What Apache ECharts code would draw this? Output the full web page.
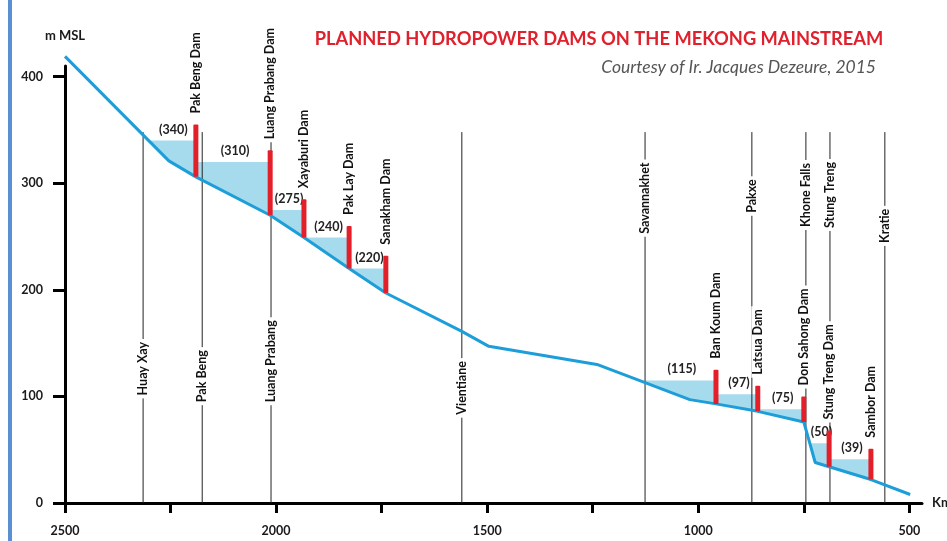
<!DOCTYPE html>
<html>
<head>
<meta charset="utf-8">
<script src="https://cdn.jsdelivr.net/npm/echarts@6/dist/echarts.min.js"></script>
<style>
  html, body { margin: 0; padding: 0; background: #fff; }
  #chart { width: 947px; height: 541px; }
</style>
</head>
<body>
<div id="chart"></div>
<script>
// river profile (distance from sea in km, elevation in m MSL)
const riverKm   = [2500, 2254, 2190, 2014, 1934, 1827, 1740, 1560, 1496, 1240, 1126, 1020, 958, 859, 750, 740, 723, 690, 591, 498];
const riverElev = [419, 321, 306, 270, 249, 220, 197, 161, 147, 130, 113, 97, 93, 86, 76, 62, 38, 34, 22, 8];

// dams
const damNames = ['Pak Beng Dam', 'Luang Prabang Dam', 'Xayaburi Dam', 'Pak Lay Dam', 'Sanakham Dam',
                  'Ban Koum Dam', 'Latsua Dam', 'Don Sahong Dam', 'Stung Treng Dam', 'Sambor Dam'];
const damKm  = [2190, 2014, 1934, 1827, 1740, 958, 859, 750, 690, 591];
const damTop = [355, 331, 285, 260, 232, 125, 110, 100, 68, 51];

// reservoirs
const poolLabels = ['(340)', '(310)', '(275)', '(240)', '(220)', '(115)', '(97)', '(75)', '(50)', '(39)'];
const poolStart  = [2306, 2190, 2014, 1934, 1827, 1129, 958, 859, 736, 690];
const poolEnd    = [2190, 2014, 1934, 1827, 1740, 958, 859, 750, 690, 591];
const poolLevel  = [340, 320, 275, 249, 220, 115, 102, 88, 56, 41];

// towns / places
const placeNames = ['Huay Xay', 'Pak Beng', 'Luang Prabang', 'Vientiane', 'Savannakhet', 'Pakxe', 'Khone Falls', 'Stung Treng', 'Kratie'];
const placeKm    = [2315, 2175, 2012, 1560, 1126, 873, 745, 688, 558];

// axes
const yTicks   = [0, 100, 200, 300, 400];
const xTicks   = [500, 750, 1000, 1250, 1500, 1750, 2000, 2250, 2500];
const xLabels  = [500, 1000, 1500, 2000, 2500];

// layout only: where the place names sit along their line (m)
const placeLabelAt = [126, 119, 133, 108, 286, 288, 289, 289, 260];
const placeLineTop = 348;

const FONT = 'Lato, "Open Sans", sans-serif';
const lbl = 'bold 12.5px ' + FONT;

function riverAt(km) {
    for (let i = 0; i < riverKm.length - 1; i++) {
        const a = riverKm[i], b = riverKm[i + 1];
        if (km <= a && km >= b) {
            const t = (a - km) / (a - b);
            return riverElev[i] + t * (riverElev[i + 1] - riverElev[i]);
        }
    }
    return riverElev[riverElev.length - 1];
}

function vText(x, y, text, align, bg) {
    return {
        type: 'text', x: x, y: y, rotation: Math.PI / 2,
        style: {
            text: text, font: lbl, fill: '#111',
            align: align, textAlign: align,
            verticalAlign: 'middle', textVerticalAlign: 'middle',
            backgroundColor: bg ? '#fff' : null, padding: bg ? [0, 3] : 0,
        },
    };
}

const option = {
    animation: false,
    backgroundColor: '#fff',
    grid: { left: 65, right: 25, top: 66, bottom: 38, outerBoundsMode: 'none' },
    xAxis: {
        type: 'value', inverse: true, min: 470, max: 2500,
        name: 'Km', nameLocation: 'start', nameGap: 10,
        nameTextStyle: { fontFamily: FONT, fontWeight: 'bold', fontSize: 13, color: '#1a1a1a' },
        axisLine: { lineStyle: { color: '#000', width: 3 } },
        axisTick: { show: true, length: 10, customValues: xTicks, lineStyle: { color: '#000', width: 3 } },
        axisLabel: { customValues: xLabels, formatter: v => String(v), margin: 21,
                     fontFamily: FONT, fontWeight: 'bold', fontSize: 12.5, color: '#1a1a1a' },
        splitLine: { show: false },
    },
    yAxis: {
        type: 'value', min: 0, max: 410,
        name: 'm MSL', nameLocation: 'end', nameGap: 24,
        nameTextStyle: { fontFamily: FONT, fontWeight: 'bold', fontSize: 13, color: '#1a1a1a', align: 'center' },
        axisLine: { show: true, lineStyle: { color: '#000', width: 3 } },
        axisTick: { show: true, length: 12, customValues: yTicks, lineStyle: { color: '#000', width: 3 } },
        axisLabel: { customValues: yTicks, margin: 22, fontFamily: FONT, fontWeight: 'bold', fontSize: 12.5, color: '#1a1a1a' },
        splitLine: { show: false },
    },
    graphic: [
        { type: 'rect', left: 8, top: 0, shape: { width: 4, height: 541 }, style: { fill: '#5b8fd3' } },
        {
            type: 'text', x: 599, y: 39,
            style: { text: 'PLANNED HYDROPOWER DAMS ON THE MEKONG MAINSTREAM', font: 'bold 18.3px ' + FONT,
                     fill: '#e0202c', align: 'center', textAlign: 'center', verticalAlign: 'middle', textVerticalAlign: 'middle' },
        },
        {
            type: 'text', x: 876, y: 67,
            style: { text: 'Courtesy of Ir. Jacques Dezeure, 2015', font: 'italic 17.5px ' + FONT,
                     fill: '#555', align: 'right', textAlign: 'right', verticalAlign: 'middle', textVerticalAlign: 'middle' },
        },
    ],
    series: [
        {
            name: 'pools', type: 'custom', z: 1, silent: true,
            encode: { x: [0, 1], y: 2 },
            data: poolStart.map((s, i) => [s, poolEnd[i], poolLevel[i]]),
            renderItem: function (params, api) {
                const s = api.value(0), e = api.value(1), lv = api.value(2);
                const pts = [[s, lv], [e, lv], [e, riverAt(e)]];
                for (let i = riverKm.length - 1; i >= 0; i--) {
                    if (riverKm[i] > e && riverKm[i] < s) pts.push([riverKm[i], riverElev[i]]);
                }
                pts.push([s, riverAt(s)]);
                const mid = api.coord([(s + e) / 2, lv]);
                return {
                    type: 'group',
                    children: [
                        { type: 'polygon', shape: { points: pts.map(p => api.coord(p)) }, style: { fill: '#a6dbee' } },
                        {
                            type: 'text', x: mid[0] + 2, y: mid[1] - 11,
                            style: { text: poolLabels[params.dataIndex], font: lbl, fill: '#222',
                                     align: 'center', textAlign: 'center', verticalAlign: 'middle', textVerticalAlign: 'middle' },
                        },
                    ],
                };
            },
        },
        {
            name: 'places', type: 'custom', z: 2, silent: true,
            encode: { x: 0, y: 1 },
            data: placeKm.map(k => [k, 0]),
            renderItem: function (params, api) {
                const k = api.value(0);
                const top = api.coord([k, placeLineTop]), bot = api.coord([k, 0]);
                const at = api.coord([k, placeLabelAt[params.dataIndex]]);
                return {
                    type: 'group',
                    children: [
                        { type: 'line', shape: { x1: top[0], y1: top[1], x2: bot[0], y2: bot[1] }, style: { stroke: '#222', lineWidth: 1 } },
                        vText(at[0], at[1], placeNames[params.dataIndex], 'center', true),
                    ],
                };
            },
        },
        {
            name: 'river', type: 'line', z: 3, silent: true, clip: false,
            data: riverKm.map((k, i) => [k, riverElev[i]]),
            symbol: 'none',
            lineStyle: { color: '#1d9ed9', width: 3 },
        },
        {
            name: 'dams', type: 'custom', z: 4, silent: true,
            encode: { x: 0, y: 1 },
            data: damKm.map((k, i) => [k, damTop[i]]),
            renderItem: function (params, api) {
                const k = api.value(0), t = api.value(1);
                const p0 = api.coord([k, riverAt(k)]), p1 = api.coord([k, t]);
                return {
                    type: 'group',
                    children: [
                        { type: 'rect', shape: { x: p0[0] - 2.5, y: p1[1], width: 5, height: p0[1] - p1[1], r: 1 }, style: { fill: '#e3202a' } },
                        vText(p1[0], p1[1] - 8, damNames[params.dataIndex], 'left', true),
                    ],
                };
            },
        },
    ],
};

const myChart = echarts.init(document.getElementById('chart'));
myChart.setOption(option);
</script>
</body>
</html>
